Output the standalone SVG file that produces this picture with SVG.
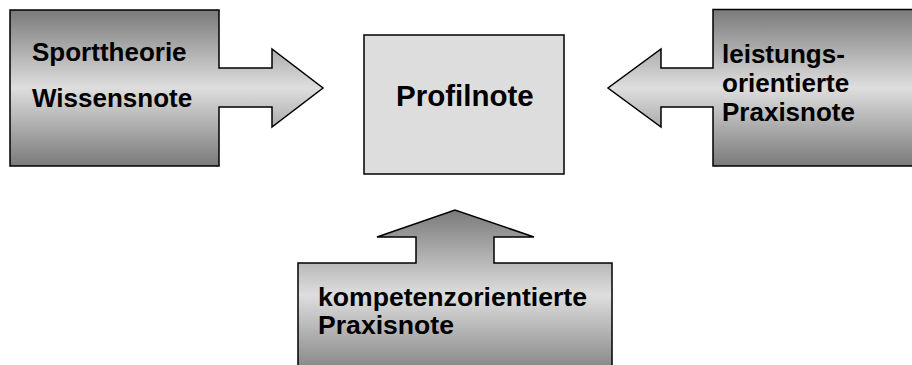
<svg xmlns="http://www.w3.org/2000/svg" width="912" height="365" viewBox="0 0 912 365">
<defs>
<linearGradient id="g" x1="0" y1="0" x2="0" y2="1">
<stop offset="0" stop-color="#7a7a7a"/>
<stop offset="0.5" stop-color="#dedede"/>
<stop offset="1" stop-color="#7a7a7a"/>
</linearGradient>
<style>
.call{fill:url(#g);stroke:#000;stroke-width:1.5;stroke-linejoin:miter}
.box{fill:#dddddd;stroke:#000;stroke-width:1.5}
.t{font-family:"Liberation Sans",Arial,sans-serif;font-weight:bold;font-size:26px;fill:#000}
</style>
</defs>
<g id="connectors"></g>
<g id="sporttheorie">
<path class="call" d="M10,10 H219 V68 H272 V49 L323,88 L272,127 V107 H219 V166 H10 Z"/>
<text class="t" x="32" y="61">Sporttheorie</text>
<text class="t" x="32" y="107">Wissensnote</text>
</g>
<g id="leistung">
<path class="call" d="M920,9.5 H713 V68 H661 V49 L608,88 L661,127 V107 H713 V166 H920 Z"/>
<text class="t" x="722" y="63">leistungs-</text>
<text class="t" x="722" y="92">orientierte</text>
<text class="t" x="722" y="121">Praxisnote</text>
</g>
<g id="kompetenz">
<path class="call" d="M298,380 V263 H416 V237 H377 L455,210 L534,237 H494 V263 H612 V380 Z"/>
<text class="t" x="318" y="306" style="font-size:26.6px">kompetenzorientierte</text>
<text class="t" x="318" y="334" style="font-size:26.6px">Praxisnote</text>
</g>
<g id="profilnote">
<rect class="box" x="364" y="35" width="200" height="139"/>
<text class="t" x="396" y="106" style="font-size:29.5px">Profilnote</text>
</g>
</svg>
